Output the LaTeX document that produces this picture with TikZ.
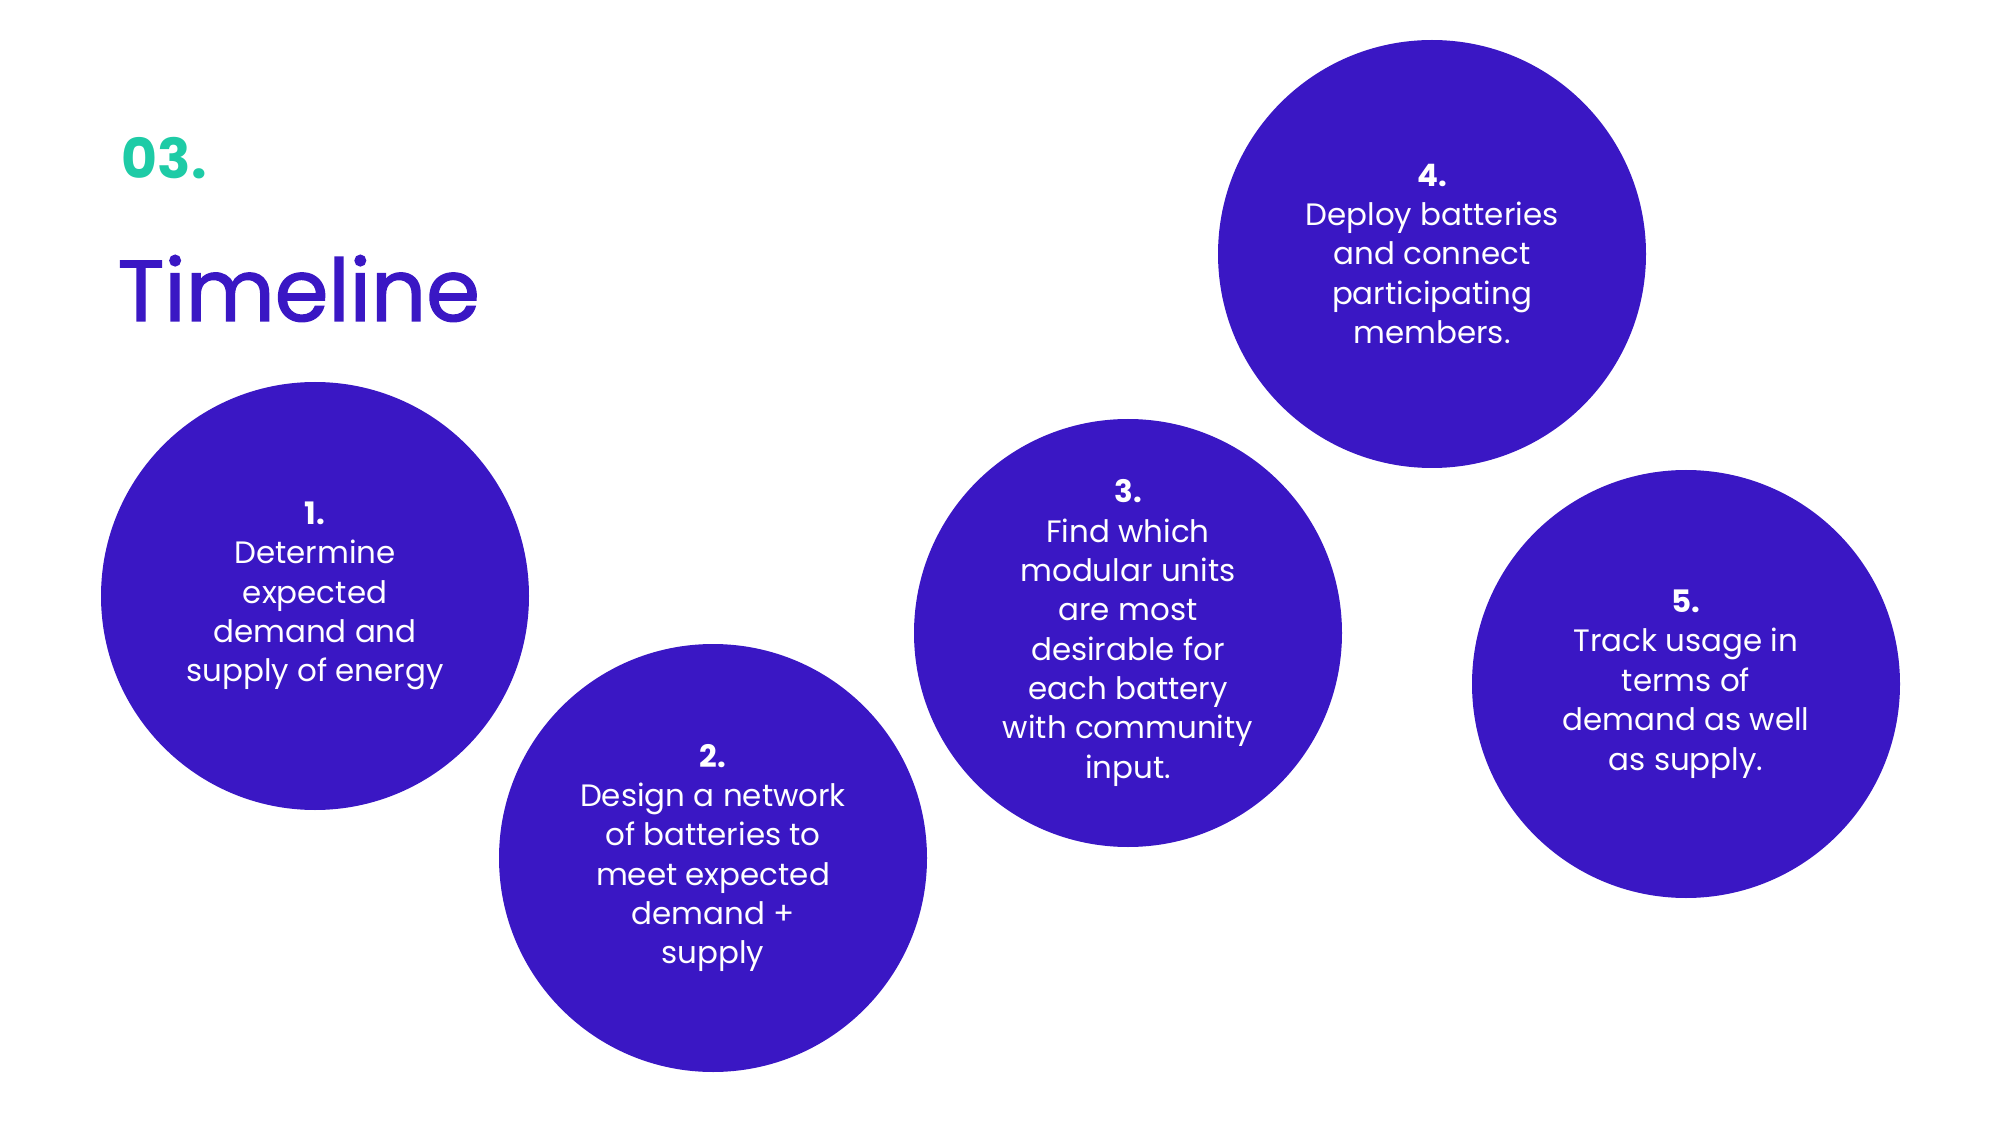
\documentclass[tikz,border=0pt]{standalone}
\usepackage{fontspec}
\setmainfont{Poppins}
\newfontfamily\titlefont{Poppins}[FakeBold=1.6]
\definecolor{stepblue}{HTML}{3A17C4}
\definecolor{stepteal}{HTML}{1ECBA6}
\begin{document}
\begin{tikzpicture}[
  stepcircle/.style={circle, fill=stepblue, minimum size=4.28cm, inner sep=0pt,
    text=white, align=center, font=\fontsize{8.8}{11.2}\selectfont},
  heading/.style={anchor=base west, inner sep=0pt}
]
\useasboundingbox (0,0) rectangle (20,11.25);
% heading
\node[heading, text=stepteal, font=\fontsize{15.7}{20}\selectfont\bfseries] (num) at (1.21,9.46) {03.};
\node[heading, text=stepblue, font=\fontsize{24.6}{30}\titlefont] (title) at (1.17,8.04) {Timeline};
% steps
\node[stepcircle] (s1) at (3.15,5.29) {{\bfseries 1.}\\Determine\\expected\\demand and\\supply of energy};
\node[stepcircle] (s2) at (7.13,2.67) {{\bfseries 2.}\\Design a network\\of batteries to\\meet expected\\demand +\\supply};
\node[stepcircle] (s3) at (11.28,4.92) {{\bfseries 3.}\\Find which\\modular units\\are most\\desirable for\\each battery\\with community\\input.};
\node[stepcircle] (s4) at (14.32,8.71) {{\bfseries 4.}\\Deploy batteries\\and connect\\participating\\members.};
\node[stepcircle] (s5) at (16.86,4.41) {{\bfseries 5.}\\Track usage in\\terms of\\demand as well\\as supply.};
\end{tikzpicture}
\end{document}
